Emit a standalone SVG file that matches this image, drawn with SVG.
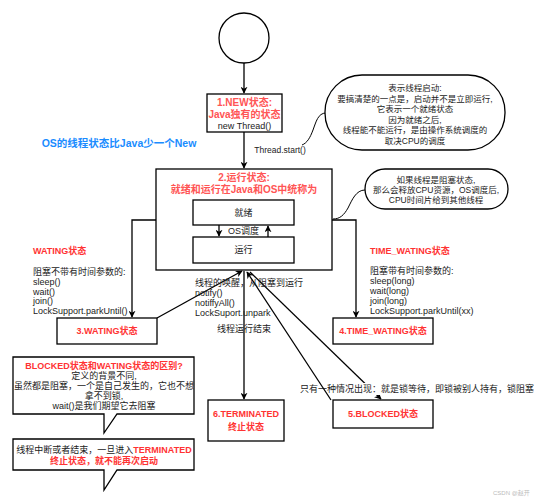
<svg xmlns="http://www.w3.org/2000/svg" width="537" height="500" viewBox="0 0 537 500">
<defs>
<marker id="arr" viewBox="0 0 10 10" refX="9" refY="5" markerWidth="7" markerHeight="7" markerUnits="userSpaceOnUse" orient="auto">
<path d="M0,0 L10,5 L0,10 L3,5 Z" fill="#000"/>
</marker>
<style>
text{font-family:"Liberation Sans","Noto Sans CJK SC",sans-serif;font-size:9px;fill:#222;}
.c{text-anchor:middle;dominant-baseline:central;}
.l{dominant-baseline:central;}
.r{fill:#FF3333;font-weight:bold;}
.r2{fill:#FF5555;font-weight:bold;}
.b{fill:#1a8cff;font-weight:bold;font-size:10.5px;}
.s{font-size:8.5px;}
.box{fill:#fff;stroke:#000;stroke-width:1.3;}
.ln{fill:none;stroke:#000;stroke-width:1.3;}
.cv{fill:none;stroke:#000;stroke-width:1;}
.wm{fill:#bbb;font-size:6px;}
</style>
</defs>
<rect width="537" height="500" fill="#fff"/>

<g id="connectors">
<line class="ln" x1="244" y1="63" x2="244" y2="93" marker-end="url(#arr)"/>
<line class="ln" x1="244" y1="132" x2="244" y2="168" marker-end="url(#arr)"/>
<polyline class="ln" points="156,220 132,220 132,317" marker-end="url(#arr)"/>
<polyline class="ln" points="332,220 356,220 356,317" marker-end="url(#arr)"/>
<line class="ln" x1="157" y1="318" x2="242" y2="271" marker-end="url(#arr)"/>
<line class="ln" x1="244" y1="271" x2="244" y2="399" marker-end="url(#arr)"/>
<line class="ln" x1="250" y1="272" x2="381" y2="399" marker-end="url(#arr)"/>
<rect x="299" y="383" width="230" height="12" fill="#fff"/>
<text class="l" x="300" y="389">只有一种情况出现：就是锁等待，即锁被别人持有，锁阻塞</text>
<line class="ln" x1="331" y1="400" x2="247" y2="272" marker-end="url(#arr)"/>
<path class="cv" d="M326,113 C318,113 316,122 313,130 C310,138 307,143 302,145"/>
<path class="cv" d="M365,190 C356,190 352,200 348,208 C344,215 340,219 333,219"/>
</g>

<g id="start">
<circle cx="244" cy="38" r="25" fill="#fff" stroke="#000" stroke-width="1.3"/>
</g>

<g id="new">
<rect class="box" x="207" y="94" width="75" height="38"/>
<text class="c r2" x="244.5" y="102" style="font-size:10px">1.NEW状态:</text>
<text class="c r2" x="244.5" y="114" style="font-size:10px">Java独有的状态</text>
<text class="c" x="244.5" y="126">new Thread()</text>
</g>

<text class="c s" x="280" y="150">Thread.start()</text>
<text class="c b" x="119" y="143">OS的线程状态比Java少一个New</text>

<g id="note1">
<rect class="box" x="325" y="75" width="180" height="75" rx="37" ry="37" stroke-width="1"/>
<text class="c s" x="415" y="88">表示线程启动:</text>
<text class="c s" x="415" y="98.5">要搞清楚的一点是，启动并不是立即运行,</text>
<text class="c s" x="415" y="109">它表示一个就绪状态</text>
<text class="c s" x="415" y="119.5">因为就绪之后,</text>
<text class="c s" x="415" y="130">线程能不能运行，是由操作系统调度的</text>
<text class="c s" x="415" y="140.5">取决CPU的调度</text>
</g>

<g id="running">
<rect class="box" x="156" y="169" width="176" height="101"/>
<text class="c r2" x="244" y="177" style="font-size:10px">2.运行状态:</text>
<text class="c r2" x="244" y="189" style="font-size:10px">就绪和运行在Java和OS中统称为</text>
<rect class="box" x="193" y="200" width="101" height="25"/>
<text class="c" x="243.5" y="212.5">就绪</text>
<rect class="box" x="193" y="237" width="101" height="26"/>
<text class="c" x="243.5" y="250">运行</text>
<text class="c" x="243.5" y="231">OS调度</text>
<line class="ln" x1="219" y1="225" x2="219" y2="236" marker-end="url(#arr)"/>
<line class="ln" x1="268" y1="237" x2="268" y2="226" marker-end="url(#arr)"/>
</g>

<g id="note2">
<rect class="box" x="365" y="169" width="143" height="40" rx="20" ry="20" stroke-width="1"/>
<text class="c s" x="436" y="180">如果线程是阻塞状态,</text>
<text class="c s" x="436" y="190">那么会释放CPU资源，OS调度后,</text>
<text class="c s" x="436" y="200">CPU时间片给到其他线程</text>
</g>

<g id="waiting-label">
<text class="l r" x="33" y="251">WATING状态</text>
<text class="l" x="33" y="272">阻塞不带有时间参数的:</text>
<text class="l" x="33" y="282">sleep()</text>
<text class="l" x="33" y="291.5">wait()</text>
<text class="l" x="33" y="301">join()</text>
<text class="l" x="33" y="311">LockSupport.parkUntil()</text>
</g>

<g id="timed-label">
<text class="l r" x="370" y="251">TIME_WATING状态</text>
<text class="l" x="370" y="271">阻塞带有时间参数的:</text>
<text class="l" x="370" y="281">sleep(long)</text>
<text class="l" x="370" y="291">wait(long)</text>
<text class="l" x="370" y="301">join(long)</text>
<text class="l" x="370" y="311">LockSupport.parkUntil(xx)</text>
</g>

<g id="wake-label">
<text class="l" x="195" y="283">线程的唤醒，从阻塞到运行</text>
<text class="l" x="195" y="293">notify()</text>
<text class="l" x="195" y="303">notiffyAll()</text>
<text class="l" x="195" y="313">LockSuport.unpark</text>
<text class="c" x="244" y="329">线程运行结束</text>
</g>

<g id="waiting">
<rect class="box" x="57" y="318" width="100" height="26"/>
<text class="c r" x="107" y="331">3.WATING状态</text>
</g>

<g id="timed">
<rect class="box" x="333" y="318" width="100" height="26"/>
<text class="c r" x="383" y="331">4.TIME_WATING状态</text>
</g>

<g id="terminated">
<rect class="box" x="208" y="400" width="76" height="41"/>
<text class="c r" x="246" y="414">6.TERMINATED</text>
<text class="c r" x="246" y="427">终止状态</text>
</g>

<g id="blocked">
<rect class="box" x="333" y="400" width="100" height="28"/>
<text class="c r" x="383" y="414">5.BLOCKED状态</text>
</g>

<g id="note3">
<path class="box" d="M13,357 H194 V414 H117 L104,433 V414 H13 Z"/>
<text class="c r" x="104" y="366">BLOCKED状态和WATING状态的区别?</text>
<text class="c" x="104" y="376">定义的背景不同,</text>
<text class="c" x="104" y="386">虽然都是阻塞，一个是自己发生的，它也不想</text>
<text class="c" x="104" y="396">拿不到锁,</text>
<text class="c" x="104" y="406">wait()是我们期望它去阻塞</text>
</g>

<g id="note4">
<path class="box" d="M13,439 H194 V470 H117 L104,490 V470 H13 Z"/>
<text class="c" x="104" y="450">线程中断或者结束，一旦进入<tspan class="r">TERMINATED</tspan></text>
<text class="c r" x="104" y="461">终止状态，就不能再次启动</text>
</g>

<text class="wm" x="493" y="495">CSDN @赵开</text>
</svg>
